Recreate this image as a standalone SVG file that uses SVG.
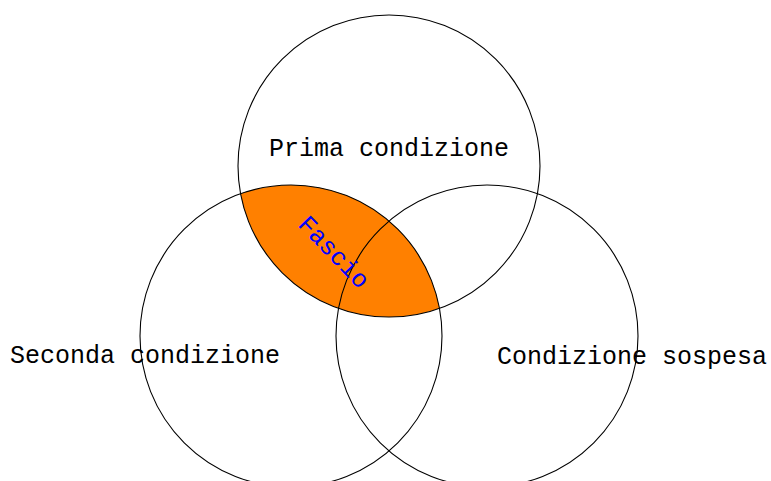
<svg xmlns="http://www.w3.org/2000/svg" width="771" height="481" viewBox="0 0 771 481">
<style>
.c{fill:none;stroke:#000;stroke-width:1.1}
.t{font-family:"Liberation Mono","DejaVu Sans Mono",monospace;font-size:25px;text-anchor:middle;fill:#000}
</style>
<rect width="771" height="481" fill="#fff"/>
<g id="fascio">
<path d="M240.55 193.68 A151 151 0 0 1 439.45 308.32 A151 151 0 0 1 240.55 193.68 Z" fill="#ff8000"/>
</g>
<g id="prima"><circle class="c" cx="389" cy="166" r="151"/><text class="t" x="389" y="156">Prima condizione</text></g>
<g id="seconda"><circle class="c" cx="291" cy="336" r="151"/><text class="t" x="145" y="363">Seconda condizione</text></g>
<g id="sospesa"><circle class="c" cx="487" cy="336" r="151"/><text class="t" x="632" y="364">Condizione sospesa</text></g>
<g id="fascio-label"><text class="t" style="fill:#0000ff" transform="translate(334 252) rotate(46)" y="8">Fascio</text></g>
</svg>
